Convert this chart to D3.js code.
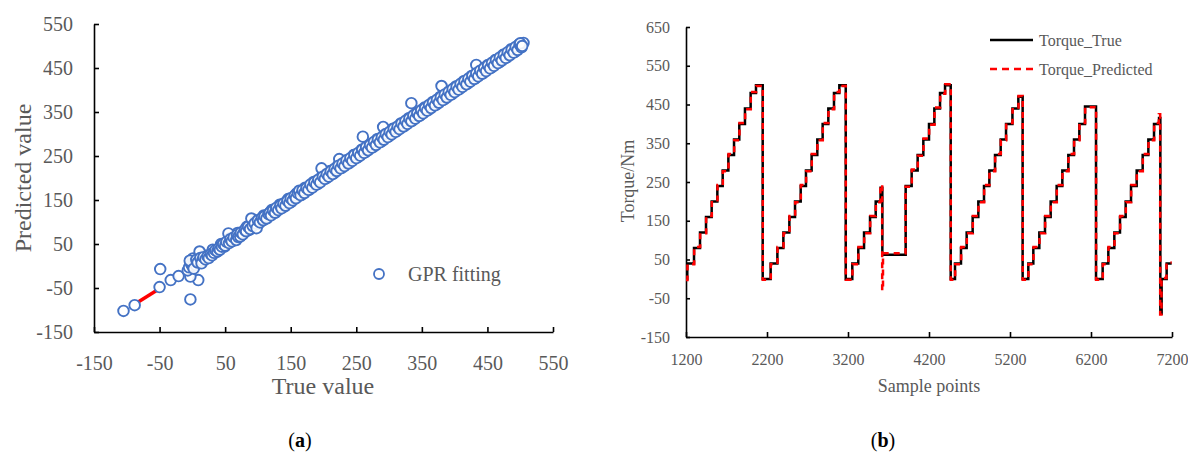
<!DOCTYPE html>
<html>
<head>
<meta charset="utf-8">
<script src="https://cdn.jsdelivr.net/npm/d3@7"></script>
<style>
  body { margin: 0; background: #fff; }
  svg { display: block; font-family: "Liberation Serif", serif; }
</style>
</head>
<body>
<div id="chart"></div>
<script>
/* (a) GPR fitting: [true value, predicted value] */
const gprPoints = [
  [18,24],[24,19],[31,37],[37,32],[44,50],[49,44],[57,63],[62,57],[69,75],[75,70],[83,89],
  [87,82],[96,102],[101,96],[109,115],[114,109],[121,127],[127,122],[133,139],[140,135],
  [146,152],[151,146],[159,165],[166,161],[172,178],[178,173],[185,191],[191,186],[198,204],
  [204,199],[210,216],[216,211],[222,228],[228,223],[234,240],[240,235],[246,252],[252,247],
  [258,264],[264,259],[270,276],[276,271],[282,288],[288,283],[294,300],[300,295],[306,312],
  [312,307],[318,324],[324,319],[330,336],[336,331],[342,348],[348,343],[354,360],[360,355],
  [366,372],[372,367],[378,384],[384,379],[390,396],[396,391],[402,408],[408,403],[414,420],
  [420,415],[426,432],[432,427],[438,444],[444,439],[450,456],[456,451],[462,468],[468,463],
  [474,480],[480,475],[486,492],[492,487],[498,503],
  [-105,-102],[-88,-89],[-50,-48],[-49,-7],[-33,-32],[-21,-23],[-3,-76],[9,-32],[-3,-24],
  [-7,-10],[-5,-3],[-2,5],[0,0],[1,17],[3,10],[5,2],[-4,12],[11,33],[2,-6],[6,14],[8,8],
  [12,18],[15,12],[14,6],[17,20],[20,15],[23,22],[25,18],[28,27],[30,24],[33,30],[35,36],
  [38,33],[40,40],[42,37],[45,44],[47,50],[50,46],[52,55],[55,74],[56,52],[58,61],[60,56],
  [63,65],[67,59],[68,70],[70,66],[73,67],[74,76],[77,72],[80,82],[82,79],[85,89],[88,84],
  [90,108],[92,91],[95,97],[98,86],[100,104],[103,99],[106,109],[108,104],[110,113],[113,108],
  [116,118],[118,121],[120,115],[123,126],[126,121],[128,132],[131,127],[134,137],[136,131],
  [139,142],[142,137],[145,148],[148,143],[150,154],[153,149],[156,160],[158,154],[161,165],
  [163,171],[165,161],[168,172],[171,166],[174,177],[177,173],[180,185],[183,178],[186,190],
  [189,185],[192,196],[195,190],[197,222],[199,203],[202,198],[205,209],[208,203],[211,215],
  [214,209],[217,221],[220,216],[224,243],[223,228],[226,222],[229,233],[232,227],[235,240],
  [238,233],[241,245],[244,239],[247,252],[250,245],[253,257],[256,251],[259,264],[260,294],
  [262,257],[265,270],[268,263],[271,275],[274,269],[277,282],[280,275],[283,288],[286,281],
  [289,293],[291,316],[292,287],[295,300],[298,293],[301,305],[304,299],[307,312],[310,305],
  [313,317],[316,311],[319,324],[322,317],[325,330],[328,323],[331,335],[334,370],[334,329],
  [337,342],[340,335],[343,347],[346,341],[349,354],[352,347],[355,359],[358,353],[361,366],
  [364,359],[367,372],[370,365],[373,378],[376,371],[379,384],[380,409],[382,377],[385,390],
  [388,383],[391,396],[394,389],[397,402],[400,395],[403,408],[406,401],[409,414],[412,407],
  [415,420],[418,413],[421,426],[424,419],[427,432],[430,425],[433,457],[433,438],[436,431],
  [439,444],[442,437],[445,450],[448,443],[451,456],[454,449],[457,462],[460,455],[463,468],
  [466,461],[469,474],[472,467],[475,480],[478,473],[481,486],[484,479],[487,492],[490,485],
  [493,498],[496,491],[499,504],[502,497],[505,507],[500,506],[503,500]
];
const fitSegment = [[-82, -81], [-54, -55]];
const gprTicks = [-150, -50, 50, 150, 250, 350, 450, 550];

/* (b) torque steps: [sample point, torque] */
const torqueTrue = [
  [1200,0],[1216,40],[1299,80],[1373,120],[1447,160],[1517,200],[1587,240],[1653,280],[1723,320],
  [1793,360],[1858,400],[1928,440],[1998,480],[2064,500],[2147,0],
  [2245,40],[2328,80],[2402,120],[2476,160],[2546,200],[2616,240],[2681,280],[2751,320],[2821,360],
  [2887,400],[2957,440],[3027,480],[3093,500],[3172,0],
  [3253,40],[3327,80],[3398,120],[3472,160],[3542,200],[3602,235],[3624,62],[3912,240],[3986,280],
  [4060,320],[4130,360],[4200,400],[4266,440],[4336,480],[4398,500],[4468,0],
  [4521,40],[4595,80],[4665,120],[4739,160],[4809,200],[4879,240],[4945,280],[5015,320],[5085,360],
  [5151,400],[5230,440],[5303,470],[5356,0],
  [5426,40],[5488,80],[5562,120],[5632,160],[5702,200],[5776,240],[5846,280],[5920,320],[5990,360],
  [6056,400],[6126,445],[6262,0],
  [6344,40],[6414,80],[6488,120],[6558,160],[6628,200],[6694,240],[6764,280],[6838,320],[6908,360],
  [6978,400],[7040,415],[7056,-90],[7072,0],[7134,40],[7196,40]
];
const torquePred = [
  [1200,-3],[1218,38],[1301,82],[1375,118],[1449,162],[1519,198],[1589,242],[1655,278],[1725,322],
  [1795,358],[1860,402],[1930,438],[2000,482],[2066,498],[2148,-2],
  [2247,38],[2330,82],[2404,118],[2478,162],[2548,198],[2618,242],[2683,278],[2753,322],[2823,358],
  [2889,402],[2959,438],[3029,482],[3095,498],[3173,-2],
  [3255,38],[3329,82],[3400,118],[3474,162],[3544,198],[3600,243],[3622,-30],[3632,66],[3910,238],
  [3988,282],[4062,318],[4132,362],[4202,398],[4268,442],[4338,478],[4400,502],[4469,-2],
  [4523,38],[4597,82],[4667,118],[4741,162],[4811,198],[4881,242],[4947,278],[5017,322],[5087,358],
  [5153,402],[5232,438],[5305,472],[5357,-2],
  [5428,38],[5490,82],[5564,118],[5634,162],[5704,198],[5778,242],[5848,278],[5922,322],[5992,358],
  [6058,402],[6128,443],[6263,-2],
  [6346,38],[6416,82],[6490,118],[6560,162],[6630,198],[6696,242],[6766,278],[6840,322],[6910,358],
  [6980,402],[7038,425],[7054,-92],[7070,2],[7132,42],[7196,42]
];
const torqueXTicks = [1200, 2200, 3200, 4200, 5200, 6200, 7200];
const torqueYTicks = [-150, -50, 50, 150, 250, 350, 450, 550, 650];

const grey = "#595959";
const blue = "#4472C4";
const plain = d => String(d);

const svg = d3.select("#chart").append("svg")
  .attr("width", 1188)
  .attr("height", 459);

/* ---------- (a) scatter ---------- */
const xa = d3.scaleLinear().domain([-150, 550]).range([94, 553]);
const ya = d3.scaleLinear().domain([-150, 550]).range([332, 24]);

const gA = svg.append("g");

gA.append("g")
  .attr("transform", "translate(0,332)")
  .call(d3.axisBottom(xa).tickValues(gprTicks).tickFormat(plain).tickSizeInner(-5).tickSizeOuter(0).tickPadding(24))
  .call(styleAxis, 20);

gA.append("g")
  .attr("transform", "translate(94,0)")
  .call(d3.axisLeft(ya).tickValues(gprTicks).tickFormat(plain).tickSizeInner(-5).tickSizeOuter(0).tickPadding(21))
  .call(styleAxis, 20);

gA.append("path")
  .datum(fitSegment)
  .attr("d", d3.line().x(d => xa(d[0])).y(d => ya(d[1])))
  .attr("fill", "none")
  .attr("stroke", "#ff0000")
  .attr("stroke-width", 3.5);

gA.selectAll("circle.pt")
  .data(gprPoints)
  .join("circle")
  .attr("class", "pt")
  .attr("cx", d => xa(d[0]))
  .attr("cy", d => ya(d[1]))
  .attr("r", 5.3)
  .attr("fill", "#fff")
  .attr("fill-opacity", 0.9)
  .attr("stroke", blue)
  .attr("stroke-width", 1.9);

gA.append("text")
  .attr("transform", "translate(31,178) rotate(-90)")
  .attr("text-anchor", "middle")
  .attr("fill", grey)
  .style("font-size", "24px")
  .text("Predicted value");

gA.append("text")
  .attr("x", 323).attr("y", 394)
  .attr("text-anchor", "middle")
  .attr("fill", grey)
  .style("font-size", "24px")
  .text("True value");

gA.append("circle")
  .attr("cx", 379).attr("cy", 274).attr("r", 5)
  .attr("fill", "#fff").attr("stroke", blue).attr("stroke-width", 1.8);
gA.append("text")
  .attr("x", 408).attr("y", 281)
  .attr("fill", grey)
  .style("font-size", "20px")
  .text("GPR fitting");

/* ---------- (b) torque ---------- */
const xb = d3.scaleLinear().domain([1200, 7200]).range([686, 1172]);
const yb = d3.scaleLinear().domain([-150, 650]).range([337, 27]);

const gB = svg.append("g");

gB.append("g")
  .attr("transform", "translate(0,337)")
  .call(d3.axisBottom(xb).tickValues(torqueXTicks).tickFormat(plain).tickSizeInner(-5).tickSizeOuter(0).tickPadding(17))
  .call(styleAxis, 16);

gB.append("g")
  .attr("transform", "translate(686,0)")
  .call(d3.axisLeft(yb).tickValues(torqueYTicks).tickFormat(plain).tickSizeInner(-4).tickSizeOuter(0).tickPadding(16))
  .call(styleAxis, 16);

const stepLine = d3.line()
  .x(d => xb(d[0]))
  .y(d => yb(d[1]))
  .curve(d3.curveStepAfter);

gB.append("path")
  .datum(torqueTrue)
  .attr("d", stepLine)
  .attr("fill", "none")
  .attr("stroke", "#000")
  .attr("stroke-width", 2.5);

gB.append("path")
  .datum(torquePred)
  .attr("d", stepLine)
  .attr("fill", "none")
  .attr("stroke", "#ff0000")
  .attr("stroke-width", 2.5)
  .attr("stroke-dasharray", "6,5");

gB.append("text")
  .attr("transform", "translate(634,181) rotate(-90)")
  .attr("text-anchor", "middle")
  .attr("fill", grey)
  .style("font-size", "18px")
  .text("Torque/Nm");

gB.append("text")
  .attr("x", 929).attr("y", 392)
  .attr("text-anchor", "middle")
  .attr("fill", grey)
  .style("font-size", "18px")
  .text("Sample points");

// legend
const legend = [
  { label: "Torque_True", color: "#000", dash: null, y: 40 },
  { label: "Torque_Predicted", color: "#ff0000", dash: "7,5", y: 69 }
];
legend.forEach(l => {
  gB.append("line")
    .attr("x1", 990).attr("x2", 1033)
    .attr("y1", l.y).attr("y2", l.y)
    .attr("stroke", l.color)
    .attr("stroke-width", 2.5)
    .attr("stroke-dasharray", l.dash);
  gB.append("text")
    .attr("x", 1039).attr("y", l.y + 6)
    .attr("fill", grey)
    .style("font-size", "16px")
    .text(l.label);
});

/* captions */
[["a", 300], ["b", 883]].forEach(([c, x]) => {
  const t = svg.append("text")
    .attr("x", x).attr("y", 447)
    .attr("text-anchor", "middle")
    .attr("fill", "#000")
    .style("font-size", "20px");
  t.append("tspan").text("(");
  t.append("tspan").style("font-weight", "bold").text(c);
  t.append("tspan").text(")");
});

function styleAxis(g, size) {
  g.select(".domain").attr("stroke", "#000").attr("stroke-width", 1.6);
  g.selectAll(".tick line").attr("stroke", "#000").attr("stroke-width", 1.6);
  g.selectAll(".tick text")
    .attr("fill", grey)
    .style("font-family", "'Liberation Serif', serif")
    .style("font-size", size + "px");
}
</script>
</body>
</html>
